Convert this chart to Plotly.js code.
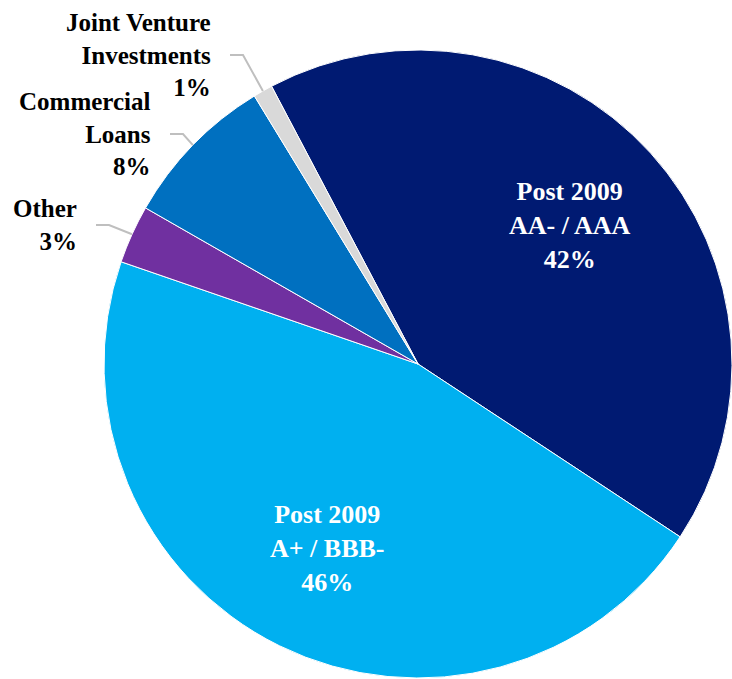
<!DOCTYPE html>
<html>
<head>
<meta charset="utf-8">
<script src="https://cdn.plot.ly/plotly-3.0.1.min.js"></script>
<style>
#piefig text.annotation-text { font-family: 'Liberation Serif', 'Times New Roman', serif !important; }
</style>
</head>
<body style="margin:0;padding:0;background:#fff">
<div id="piefig" style="width:732px;height:679px"></div>
<script>
// ---- data ----
const categories = ["Post 2009<br>AA- / AAA", "Post 2009<br>A+ / BBB-", "Other", "Commercial<br>Loans", "Joint Venture<br>Investments"];
const shares = [42, 46, 3, 8, 1];
const colors = ["#001a72", "#00b0f0", "#7030a0", "#0070c0", "#d9d9d9"];
const insideLabel = [true, true, false, false, false];

// ---- layout geometry (pixels) ----
const W = 732, H = 679;
const cx = 418, cy = 364, R = 314;
const rotation = -27.8;
const FONT = "Liberation Serif";
// outside label anchor (right edge, vertical middle)
const outsidePos = {
  2: {x: 79, y: 225},
  3: {x: 153, y: 134},
  4: {x: 213, y: 55}
};
const px = x => x / W;
const py = y => 1 - y / H;

const total = shares.reduce((a, b) => a + b, 0);
let start = rotation;
const mids = shares.map(v => {
  const a = start + v / total * 360 / 2;
  start += v / total * 360;
  return a * Math.PI / 180;
});

const annotations = [];
const shapes = [];
categories.forEach((c, i) => {
  const txt = c + "<br>" + shares[i] + "%";
  if (insideLabel[i]) {
    const r = 0.655 * R;
    annotations.push({
      x: px(cx + r * Math.sin(mids[i])), y: py(cy - r * Math.cos(mids[i])),
      xref: "paper", yref: "paper", xanchor: "center", yanchor: "middle",
      text: txt, showarrow: false, align: "center",
      font: {family: FONT, size: 26, color: "#ffffff", weight: "bold"}
    });
  } else {
    const p = outsidePos[i];
    annotations.push({
      x: px(p.x), y: py(p.y), xref: "paper", yref: "paper",
      xanchor: "right", yanchor: "middle", text: txt, showarrow: false, align: "right",
      font: {family: FONT, size: 25, color: "#000000", weight: "bold"}
    });
    const ex = cx + R * Math.sin(mids[i]), ey = cy - R * Math.cos(mids[i]);
    const x0 = p.x + 17, x1 = p.x + 30;
    shapes.push({
      type: "path", xref: "paper", yref: "paper",
      path: `M ${px(x0)} ${py(p.y)} L ${px(x1)} ${py(p.y)} L ${px(ex)} ${py(ey)}`,
      line: {color: "#bfbfbf", width: 2}
    });
  }
});

const trace = {
  type: "pie",
  labels: categories,
  values: shares,
  sort: false,
  direction: "clockwise",
  rotation: rotation,
  marker: {colors: colors, line: {color: "#ffffff", width: 1}},
  textinfo: "none",
  hoverinfo: "none",
  showlegend: false,
  domain: {x: [px(cx - R), px(cx + R)], y: [py(cy + R), py(cy - R)]}
};

const layout = {
  width: W, height: H,
  margin: {l: 0, r: 0, t: 0, b: 0},
  paper_bgcolor: "#ffffff",
  font: {family: FONT},
  showlegend: false,
  annotations: annotations,
  shapes: shapes
};

Plotly.newPlot("piefig", [trace], layout, {displayModeBar: false});
</script>
</body>
</html>
